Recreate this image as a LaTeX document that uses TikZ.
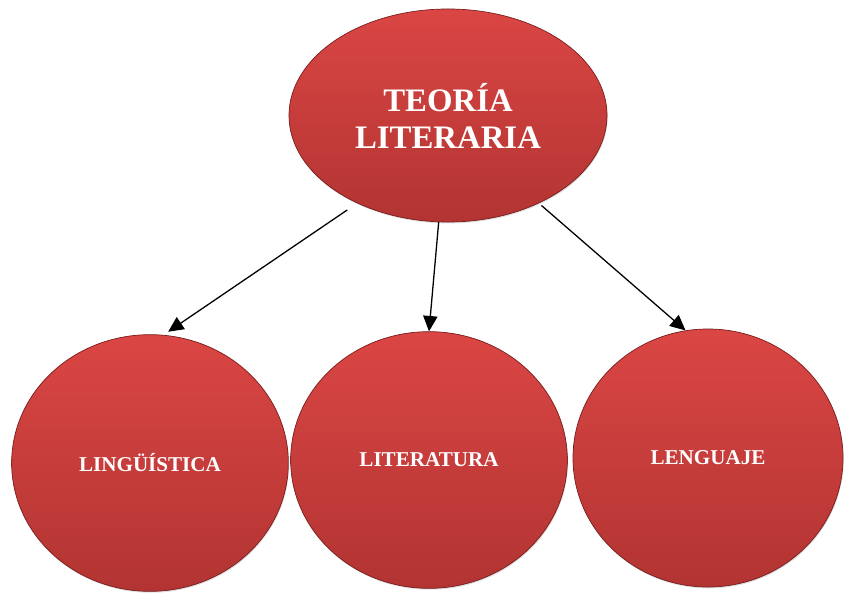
\documentclass[tikz,border=0pt]{standalone}
\usepackage{fontspec}
\setmainfont{Liberation Serif}
\usepackage{tikz}
\usetikzlibrary{arrows.meta,shapes.geometric,shadows}

\definecolor{redtop}{RGB}{218,70,68}
\definecolor{redbot}{RGB}{178,52,50}
\definecolor{redrim}{RGB}{120,30,30}

\begin{document}
\begin{tikzpicture}[x=0.03cm, y=-0.03cm,
  bubble/.style={ellipse, inner sep=0pt, draw=redrim, line width=0.6pt,
    top color=redtop, bottom color=redbot, text=white, align=center,
    font=\bfseries, drop shadow={opacity=0.25, shadow xshift=0.6pt, shadow yshift=-1.2pt}},
  big/.style={bubble, minimum width=9.54cm, minimum height=6.39cm,
    font=\fontsize{28}{31.6}\selectfont\bfseries},
  small/.style={bubble, minimum width=8.3cm, minimum height=7.7cm,
    font=\fontsize{18}{21}\selectfont\bfseries},
  link/.style={-{Triangle[length=4.6mm, width=4.3mm]}, line width=1.1pt}]
  \useasboundingbox (0,0) rectangle (846,596);

  \node[big] (teoria) at (448,115.5) {TEORÍA\\LITERARIA};
  \node[small] (ling) at (150,463) {LINGÜÍSTICA};
  \node[small] (lite) at (429,460) {LITERATURA};
  \node[small, minimum width=8.1cm, minimum height=7.74cm] (leng) at (708,458) {LENGUAJE};

  \draw[link, shorten <=3.6mm, shorten >=1.7mm] (teoria.224) -- (ling.84);
  \draw[link] (teoria.265) -- (lite.90);
  \draw[link, shorten <=1mm] (teoria.316) -- (leng.100);
\end{tikzpicture}
\end{document}
